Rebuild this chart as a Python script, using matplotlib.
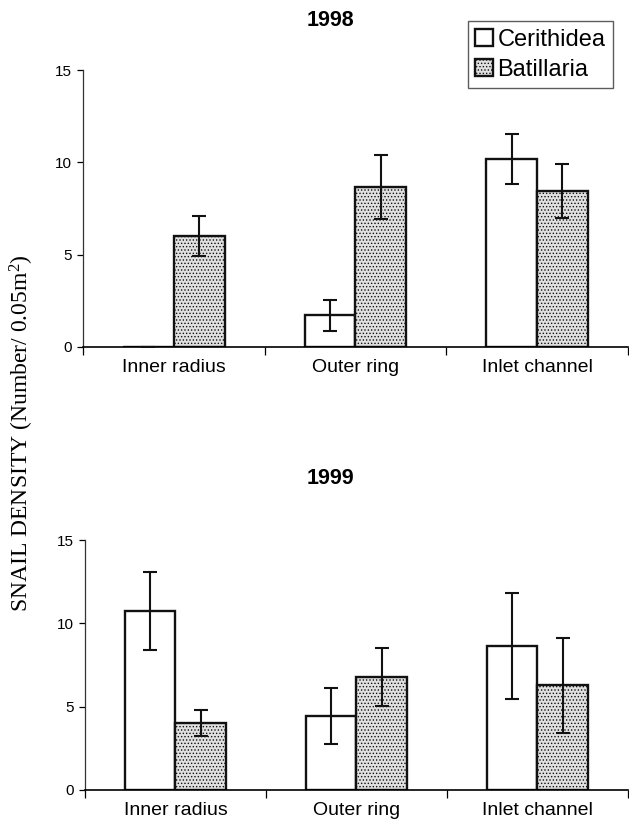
#!/usr/bin/python
"""Snail density by habitat, 1998 and 1999 (Cerithidea vs Batillaria)."""

import matplotlib
matplotlib.use("Agg")
from matplotlib import pyplot as plt
from matplotlib.ticker import FixedLocator

# Data
sites = ["Inner radius", "Outer ring", "Inlet channel"]
years = ["1998", "1999"]

ceri_1998 = [0.0, 1.72, 10.18]
ceri_1998_err = [0.0, 0.85, 1.35]
bati_1998 = [6.0, 8.68, 8.44]
bati_1998_err = [1.08, 1.75, 1.45]

ceri_1999 = [10.75, 4.41, 8.62]
ceri_1999_err = [2.35, 1.68, 3.18]
bati_1999 = [4.01, 6.78, 6.28]
bati_1999_err = [0.80, 1.72, 2.85]

y_ticks = [0, 5, 10, 15]

SANS = ["Liberation Sans Narrow", "Liberation Sans", "DejaVu Sans"]

plt.rcParams["hatch.color"] = "#3a3a3a"
plt.rcParams["hatch.linewidth"] = 0.6
plt.rcParams["mathtext.fontset"] = "custom"
plt.rcParams["mathtext.rm"] = "Liberation Serif"
plt.rcParams["mathtext.it"] = "Liberation Serif:italic"


def _draw_panel(ax, ceri, ceri_err, bati, bati_err):
    """Draw one year's grouped bars with error bars."""
    width = 0.28
    centers = [i + 0.5 for i in range(len(sites))]
    x_c = [c - width / 2 for c in centers]
    x_b = [c + width / 2 for c in centers]

    ax.bar(x_c, ceri, width=width, facecolor="white", edgecolor="#111111",
           linewidth=1.7, label="Cerithidea", zorder=2)
    ax.bar(x_b, bati, width=width, facecolor="#e0e0e0", edgecolor="#111111",
           linewidth=1.7, hatch=".....", label="Batillaria", zorder=2)
    ax.errorbar(x_c, ceri, yerr=ceri_err, fmt="none", ecolor="#111111",
                elinewidth=1.5, capsize=5, capthick=1.5, zorder=3)
    ax.errorbar(x_b, bati, yerr=bati_err, fmt="none", ecolor="#111111",
                elinewidth=1.5, capsize=5, capthick=1.5, zorder=3)

    ax.set_xlim(0, len(sites))
    ax.set_ylim(0, 15)
    ax.spines["top"].set_visible(False)
    ax.spines["right"].set_visible(False)
    ax.spines["left"].set_linewidth(0.9)
    ax.spines["bottom"].set_linewidth(1.2)
    ax.spines["left"].set_color("#333333")

    ax.set_yticks(y_ticks)
    ax.set_yticklabels([str(t) for t in y_ticks], family=SANS, fontsize=11)
    ax.tick_params(axis="y", direction="out", length=4, width=0.9, pad=4)

    # major ticks at category boundaries, labels at category centres
    ax.xaxis.set_major_locator(FixedLocator(range(len(sites) + 1)))
    ax.xaxis.set_minor_locator(FixedLocator(centers))
    ax.set_xticklabels([""] * (len(sites) + 1))
    ax.set_xticklabels(sites, minor=True, family=SANS, fontsize=14)
    ax.tick_params(axis="x", which="major", direction="out", length=6, width=0.9)
    ax.tick_params(axis="x", which="minor", length=0, pad=9)


def main():
    fig = plt.figure(figsize=(6.29, 8.26), dpi=100)
    ax_top = fig.add_axes([0.132, 0.580, 0.866, 0.335])
    ax_bot = fig.add_axes([0.135, 0.044, 0.863, 0.302])

    _draw_panel(ax_top, ceri_1998, ceri_1998_err, bati_1998, bati_1998_err)
    _draw_panel(ax_bot, ceri_1999, ceri_1999_err, bati_1999, bati_1999_err)

    fig.text(0.525, 0.975, years[0], ha="center", va="center",
             family=SANS[1:], fontsize=15.5, fontweight="bold")
    fig.text(0.525, 0.421, years[1], ha="center", va="center",
             family=SANS[1:], fontsize=15.5, fontweight="bold")

    fig.text(0.035, 0.476, "SNAIL DENSITY (Number/ 0.05m$^2$)", rotation=90,
             ha="center", va="center", family="Liberation Serif", fontsize=17)

    handles, labels = ax_top.get_legend_handles_labels()
    leg = fig.legend(handles, labels, loc="upper right",
                     bbox_to_anchor=(0.974, 0.974),
                     prop={"family": SANS, "size": 17},
                     frameon=True, fancybox=False, edgecolor="#333333",
                     handlelength=0.75, handleheight=0.75, handletextpad=0.2,
                     borderpad=0.3, labelspacing=0.35, borderaxespad=0)
    leg.get_frame().set_linewidth(1.0)

    fig.savefig("out.png", dpi=100)


if __name__ == '__main__':
    main()
